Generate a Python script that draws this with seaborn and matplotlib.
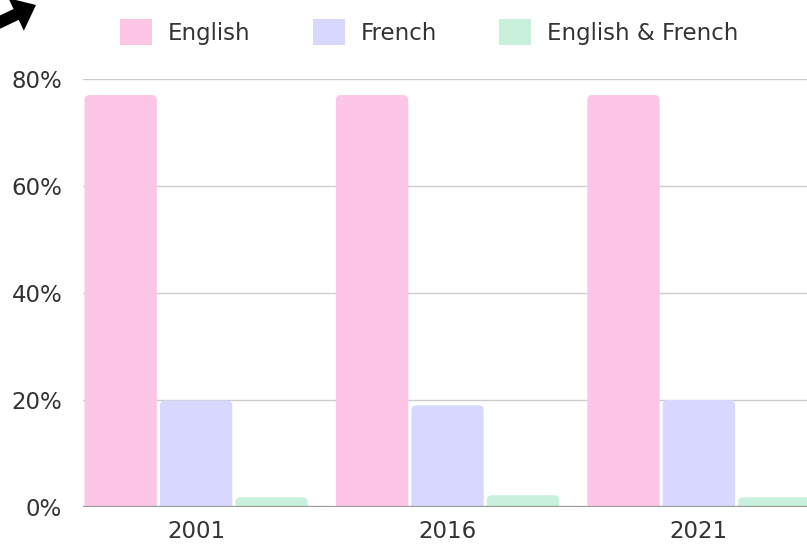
import matplotlib
matplotlib.use("Agg")
import matplotlib.pyplot as plt
import seaborn as sns
import pandas as pd
from matplotlib.patches import FancyBboxPatch, Patch, FancyArrow
from matplotlib.transforms import IdentityTransform
from matplotlib.ticker import FuncFormatter

years = ["2001", "2016", "2021"]
series = ["English", "French", "English & French"]
english = [77.0, 77.0, 77.0]
french = [19.9, 19.0, 20.0]
both = [1.8, 2.2, 1.8]
colors = ["#FEC6E6", "#D8D8FE", "#C8F0DC"]

df = pd.DataFrame({
    "year": years * 3,
    "series": [series[0]] * 3 + [series[1]] * 3 + [series[2]] * 3,
    "value": english + french + both,
})

sns.set_theme(style="white")
plt.rcParams["font.family"] = ["DejaVu Sans"]
FS = 16.5

fig = plt.figure(figsize=(8.07, 5.49), dpi=100)
ax = fig.add_axes([83 / 807, 1 - 507 / 549, 1 - 83 / 807, (507 - 79) / 549])

sns.barplot(data=df, x="year", y="value", hue="series", palette=colors,
            width=0.9, saturation=1, ax=ax, legend=False, zorder=3)

ax.set_xlim(-0.45, 2.43)
ax.set_ylim(0, 80)

# rounded tops
xr = 2.88 / 724
yr = 80 / 428
aspect = yr / xr
for p in list(ax.patches):
    x, y, w, h = p.get_x(), p.get_y(), p.get_width(), p.get_height()
    fc = p.get_facecolor()
    p.remove()
    gap = 0.006
    rp = FancyBboxPatch((x + gap, -3), w - 2 * gap, h + 3,
                        boxstyle="round,pad=0,rounding_size=0.02",
                        mutation_aspect=aspect, facecolor=fc,
                        edgecolor="none", zorder=3, clip_on=True)
    ax.add_patch(rp)

ax.set_yticks([0, 20, 40, 60, 80])
ax.yaxis.set_major_formatter(FuncFormatter(lambda v, _: f"{v:.0f}%"))
ax.grid(axis="y", color="#cccccc", linewidth=1, zorder=0)
ax.grid(axis="x", visible=False)
for s in ax.spines.values():
    s.set_visible(False)
ax.axhline(0, color="#999999", linewidth=1.6, zorder=4)
ax.set_xlabel("")
ax.set_ylabel("")
ax.tick_params(axis="both", length=0, labelsize=FS, colors="#333333")
ax.tick_params(axis="x", pad=9)
ax.tick_params(axis="y", pad=15)

handles = [Patch(facecolor=c, edgecolor="none") for c in colors]
fig.legend(handles, series, loc="center left",
           bbox_to_anchor=(120 / 807, 0.9417),
           ncol=3, frameon=False, fontsize=FS, handlelength=1.4,
           handleheight=1.4, handletextpad=0.7, columnspacing=2.7,
           labelcolor="#333333", borderpad=0, borderaxespad=0)

arrow = FancyArrow(-4, 525, 40, 19, width=12, head_width=36, head_length=22,
                   length_includes_head=True, transform=IdentityTransform(),
                   color="black", linewidth=0)
fig.add_artist(arrow)

fig.savefig("out.png", dpi=100)
